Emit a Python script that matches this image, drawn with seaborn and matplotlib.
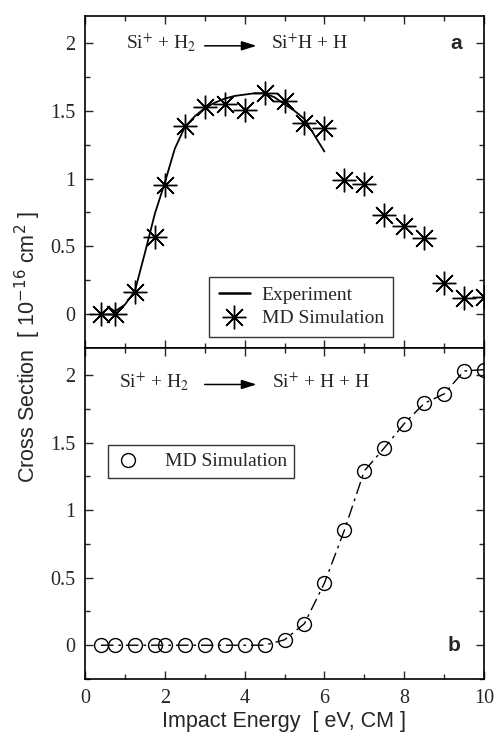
import numpy as np
import pandas as pd
import matplotlib
matplotlib.use("Agg")
import matplotlib.pyplot as plt
from matplotlib.lines import Line2D
from matplotlib.ticker import MultipleLocator
import seaborn as sns

# Si+ + H2 -> Si+H + H : molecular-dynamics cross sections
md_energy_a = [0.4, 0.75, 1.25, 1.75, 2.0, 2.5, 3.0, 3.5, 4.0, 4.5, 5.0, 5.5, 6.0,
               6.5, 7.0, 7.5, 8.0, 8.5, 9.0, 9.5, 10.0]
md_sigma_a = [0.0, 0.0, 0.16, 0.57, 0.95, 1.39, 1.53, 1.55, 1.51, 1.63, 1.57, 1.41, 1.37,
              0.99, 0.96, 0.73, 0.65, 0.56, 0.23, 0.12, 0.13]

# Experimental curve for the same channel
exp_energy = [0.4, 0.6, 0.75, 1.0, 1.25, 1.5, 1.75, 2.0, 2.25, 2.5, 2.75, 3.0, 3.25,
              3.5, 3.75, 4.0, 4.25, 4.5, 4.75, 5.0, 5.25, 5.5, 5.75, 6.0]
exp_sigma = [0.0, 0.05, 0.02, 0.07, 0.17, 0.45, 0.74, 0.97, 1.22, 1.38, 1.46, 1.52, 1.56,
             1.59, 1.61, 1.62, 1.63, 1.63, 1.60, 1.55, 1.50, 1.44, 1.32, 1.20]

# Si+ + H2 -> Si+ + H + H : molecular-dynamics cross sections
md_energy_b = [0.4, 0.75, 1.25, 1.75, 2.0, 2.5, 3.0, 3.5, 4.0, 4.5, 5.0, 5.5, 6.0,
               6.5, 7.0, 7.5, 8.0, 8.5, 9.0, 9.5, 10.0]
md_sigma_b = [0.0, 0.0, 0.0, 0.0, 0.0, 0.0, 0.0, 0.0, 0.0, 0.0, 0.04, 0.16, 0.46,
              0.85, 1.29, 1.46, 1.64, 1.79, 1.86, 2.03, 2.04]

x_ticks = [0, 2, 4, 6, 8, 10]
y_ticks = [0, 0.5, 1, 1.5, 2]
y_tick_labels = ["0", "0.5", "1", "1.5", "2"]

sns.set_style("ticks")
plt.rcParams["font.family"] = ["Liberation Serif", "DejaVu Serif"]
plt.rcParams["mathtext.fontset"] = "stix"

SERIF = "Liberation Serif"
SANS = "Liberation Sans"

fig = plt.figure(figsize=(4.97, 7.38), dpi=100)
left, right = 85 / 497, 484 / 497
y_mid = 1 - 348 / 738
y_top = 1 - 16 / 738
y_bot = 1 - 679 / 738
ax_a = fig.add_axes([left, y_mid, right - left, y_top - y_mid])
ax_b = fig.add_axes([left, y_bot, right - left, y_mid - y_bot])

df_a = pd.DataFrame({"energy": md_energy_a, "sigma": md_sigma_a})
df_exp = pd.DataFrame({"energy": exp_energy, "sigma": exp_sigma})
df_b = pd.DataFrame({"energy": md_energy_b, "sigma": md_sigma_b})

star = (8, 2, 0)

# panel a
sns.lineplot(data=df_exp, x="energy", y="sigma", ax=ax_a, color="black",
             lw=1.3, errorbar=None, sort=False)
sns.lineplot(data=df_a, x="energy", y="sigma", ax=ax_a, color="black",
             linestyle="", marker=star, markersize=17, markeredgewidth=1.0,
             markeredgecolor="black", errorbar=None)
sns.lineplot(data=df_a, x="energy", y="sigma", ax=ax_a, color="black",
             linestyle="", marker="o", markersize=3.4, markeredgewidth=0,
             markerfacecolor="black", errorbar=None)

# panel b
sns.lineplot(data=df_b, x="energy", y="sigma", ax=ax_b, color="black",
             lw=1.0, errorbar=None, marker="o", markersize=10,
             markerfacecolor="none", markeredgecolor="black", markeredgewidth=1.0)
ax_b.lines[-1].set_dashes((9, 3.5, 2, 3.5))

for ax in (ax_a, ax_b):
    ax.set_xlim(0, 10)
    ax.set_ylim(-0.25, 2.2)
    ax.set_yticks(y_ticks)
    ax.set_yticklabels(y_tick_labels)
    ax.xaxis.set_minor_locator(MultipleLocator(1))
    ax.yaxis.set_minor_locator(MultipleLocator(0.25))
    ax.tick_params(which="both", direction="in", top=True, right=True,
                   width=1.0, labelsize=14.5, pad=7)
    ax.tick_params(which="major", length=6)
    ax.tick_params(which="minor", length=3.5)
    for lab in ax.get_yticklabels() + ax.get_xticklabels():
        lab.set_fontfamily(SERIF)
    for sp in ax.spines.values():
        sp.set_visible(True)
        sp.set_linewidth(1.2)
        sp.set_color("black")
    ax.set_xlabel("")
    ax.set_ylabel("")

ax_a.set_xticks(x_ticks)
ax_a.set_xticklabels([])
ax_b.set_xticks(x_ticks)
ax_b.set_xticklabels([str(t) for t in x_ticks])
ax_b.set_xlabel("Impact Energy  [ eV, CM ]", fontsize=15.5, fontfamily=SANS, labelpad=2)

fig.text(28 / 497, (y_top + y_bot) / 2,
         "Cross Section  [ 10$^{-16}$ cm$^{2}$ ]", rotation=90,
         ha="center", va="center", fontsize=15.5, fontfamily=SANS,
         math_fontfamily="dejavusans")

# reaction equations
arrow_kw = dict(arrowstyle="-|>,head_length=0.9,head_width=0.28", color="black",
                lw=1.1, shrinkA=0, shrinkB=0)
ax_a.text(1.02, 2.0, "Si$^{+}$ + H$_{2}$", fontsize=14, fontfamily=SERIF,
          ha="left", va="center")
ax_a.annotate("", xy=(4.3, 1.98), xytext=(3.0, 1.98), arrowprops=arrow_kw)
ax_a.text(4.65, 2.0, "Si$^{+}$H + H", fontsize=14, fontfamily=SERIF,
          ha="left", va="center")
ax_a.text(9.3, 2.0, "a", fontsize=15, fontweight="bold", fontfamily=SANS,
          ha="center", va="center")

ax_b.text(0.85, 1.95, "Si$^{+}$ + H$_{2}$", fontsize=14, fontfamily=SERIF,
          ha="left", va="center")
ax_b.annotate("", xy=(4.3, 1.93), xytext=(3.0, 1.93), arrowprops=arrow_kw)
ax_b.text(4.68, 1.95, "Si$^{+}$ + H + H", fontsize=14, fontfamily=SERIF,
          ha="left", va="center")
ax_b.text(9.25, 0.0, "b", fontsize=15, fontweight="bold", fontfamily=SANS,
          ha="center", va="center")

# legends
h_exp = Line2D([], [], color="black", lw=1.8)
h_star = Line2D([], [], color="black", linestyle="", marker=star, markersize=17,
                markeredgewidth=1.0)
h_dot = Line2D([], [], color="black", linestyle="", marker="o", markersize=3.4,
               markeredgewidth=0)
leg_a = ax_a.legend([h_exp, (h_star, h_dot)], ["Experiment", "MD Simulation"],
                    loc="lower left", bbox_to_anchor=(0.311, 0.033, 0.46, 0.178),
                    mode="expand", prop={"family": SERIF, "size": 14},
                    frameon=True, fancybox=False, edgecolor="black",
                    borderpad=0.5, labelspacing=0.3, handlelength=1.6,
                    handletextpad=0.6, borderaxespad=0)
leg_a.get_frame().set_linewidth(1.0)

h_circ = Line2D([], [], color="black", linestyle="", marker="o", markersize=10,
                markerfacecolor="none", markeredgewidth=1.0)
leg_b = ax_b.legend([h_circ], ["MD Simulation"], loc="upper left",
                    bbox_to_anchor=(0.058, 0.707), prop={"family": SERIF, "size": 14},
                    frameon=True, fancybox=False, edgecolor="black",
                    borderpad=0.4, handlelength=1.2, handletextpad=1.3,
                    borderaxespad=0)
leg_b.get_frame().set_linewidth(1.0)

fig.savefig("out.png", dpi=100)
